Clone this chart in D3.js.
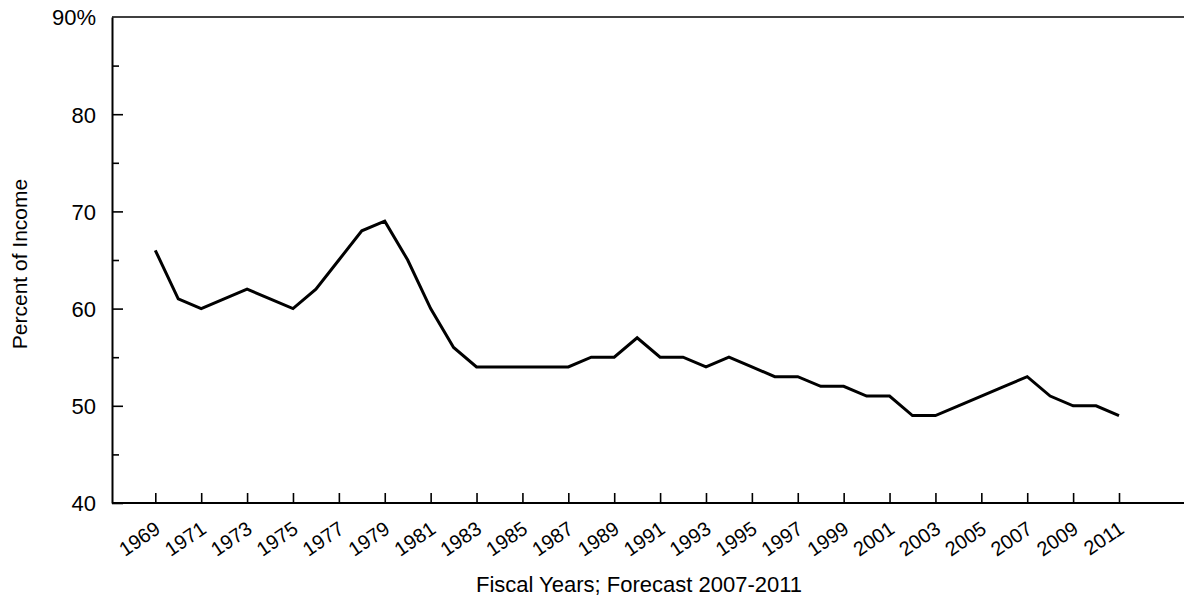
<!DOCTYPE html>
<html>
<head>
<meta charset="utf-8">
<script src="https://cdn.jsdelivr.net/npm/d3@7/dist/d3.min.js"></script>
<style>
  html, body { margin: 0; padding: 0; background: #fff; }
  svg { display: block; }
  text { font-family: "Liberation Sans", Arial, Helvetica, sans-serif; fill: #000; }
</style>
</head>
<body>
<svg id="chart" width="1184" height="598"></svg>
<script>
// Fiscal years and share of income
const years = [1969, 1970, 1971, 1972, 1973, 1974, 1975, 1976, 1977, 1978,
               1979, 1980, 1981, 1982, 1983, 1984, 1985, 1986, 1987, 1988,
               1989, 1990, 1991, 1992, 1993, 1994, 1995, 1996, 1997, 1998,
               1999, 2000, 2001, 2002, 2003, 2004, 2005, 2006, 2007, 2008,
               2009, 2010, 2011];
const percentOfIncome = [66, 61, 60, 61, 62, 61, 60, 62, 65, 68,
                         69, 65, 60, 56, 54, 54, 54, 54, 54, 55,
                         55, 57, 55, 55, 54, 55, 54, 53, 53, 52,
                         52, 51, 51, 49, 49, 50, 51, 52, 53, 51,
                         50, 50, 49];
const xTickYears = [1969, 1971, 1973, 1975, 1977, 1979, 1981, 1983, 1985, 1987,
                    1989, 1991, 1993, 1995, 1997, 1999, 2001, 2003, 2005, 2007,
                    2009, 2011];
const yMajorTicks = [40, 50, 60, 70, 80, 90];
const yMinorTicks = [45, 55, 65, 75, 85];

const svg = d3.select("#chart");
const plotLeft = 112, plotRight = 1184, plotTop = 17, plotBottom = 503;

const x = d3.scaleLinear().domain([1969, 2011]).range([155.3, 1119]);
const y = d3.scaleLinear().domain([40, 90]).range([plotBottom, plotTop]);

// top rule
svg.append("line").attr("x1", plotLeft).attr("x2", plotRight).attr("y1", plotTop).attr("y2", plotTop)
  .attr("stroke", "#000").attr("stroke-width", 1.6);

// y axis
const yAxis = d3.axisRight(y).tickValues(yMajorTicks).tickSize(11).tickSizeOuter(0)
  .tickFormat(d => d === 90 ? "90%" : d);
const gy = svg.append("g").attr("transform", `translate(${plotLeft},0)`).call(yAxis);
gy.attr("font-family", null).attr("font-size", 22);
gy.select(".domain").attr("stroke-width", 2);
gy.selectAll(".tick line").attr("stroke-width", 1.6);
gy.selectAll(".tick text").attr("x", -16).attr("text-anchor", "end")
  .attr("font-size", 22).attr("dy", "0.36em");
gy.selectAll(".tick").filter(d => d === 90).select("line").remove();

svg.append("g").attr("transform", `translate(${plotLeft},0)`)
  .call(d3.axisRight(y).tickValues(yMinorTicks).tickSize(7).tickFormat(""))
  .call(g => g.select(".domain").remove())
  .selectAll(".tick line").attr("stroke-width", 1.6);

// x axis
const xAxis = d3.axisTop(x).tickValues(xTickYears).tickSize(10).tickSizeOuter(0).tickFormat(d3.format("d"));
const gx = svg.append("g").attr("transform", `translate(0,${plotBottom})`).call(xAxis);
gx.attr("font-family", null).attr("font-size", 20);
gx.select(".domain").remove();
gx.selectAll(".tick line").attr("stroke-width", 1.6);
gx.selectAll(".tick text")
  .attr("font-size", 20)
  .attr("text-anchor", "end")
  .attr("y", 0).attr("dy", 0)
  .attr("transform", "translate(6,29) rotate(-34)");
svg.append("line").attr("x1", plotLeft).attr("x2", plotRight).attr("y1", plotBottom).attr("y2", plotBottom)
  .attr("stroke", "#000").attr("stroke-width", 2);

// series line
const line = d3.line().x((d, i) => x(years[i])).y(d => y(d));
svg.append("path").datum(percentOfIncome)
  .attr("d", line).attr("fill", "none").attr("stroke", "#000")
  .attr("stroke-width", 3).attr("stroke-linejoin", "miter");

// titles
svg.append("text").attr("x", 639).attr("y", 592).attr("text-anchor", "middle")
  .attr("font-size", 22).text("Fiscal Years; Forecast 2007-2011");
svg.append("text").attr("transform", "translate(27,264) rotate(-90)")
  .attr("text-anchor", "middle").attr("font-size", 21).text("Percent of Income");
</script>
</body>
</html>
